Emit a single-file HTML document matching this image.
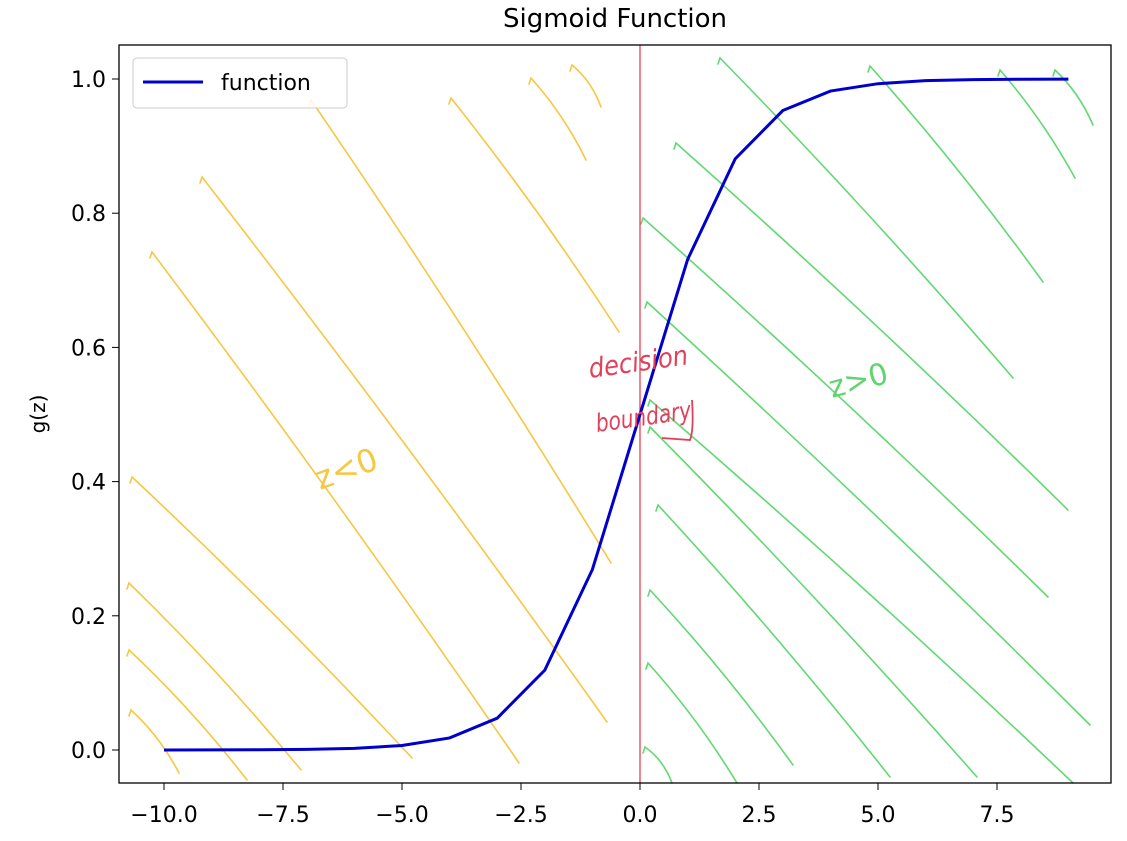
<!DOCTYPE html>
<html><head><meta charset="utf-8"><style>
html,body{margin:0;padding:0;background:#fff;}
svg{display:block;font-family:"DejaVu Sans","Liberation Sans",sans-serif;}
</style></head><body>
<svg id="chart" width="1127" height="841" viewBox="0 0 1127 841">
<rect width="1127" height="841" fill="#fff"/>
<text x="615" y="27" font-size="26" text-anchor="middle" fill="#000">Sigmoid Function</text>
<text transform="translate(45,414) rotate(-90)" font-size="20" text-anchor="middle">g(z)</text>
<g id="hatch" fill="none" stroke-width="1.6" stroke-linecap="round"></g>
<g id="ticks"></g>
<line x1="640" y1="45" x2="640" y2="783" stroke="#e8404f" stroke-width="1.3"/>
<polyline id="curve" fill="none" stroke="#0000cc" stroke-width="3"/>
<text transform="translate(320,490) rotate(-20)" font-size="32" fill="#f6c743">z&lt;0</text>
<text transform="translate(832,398) rotate(-15)" font-size="30" fill="#5fd46f">z&gt;0</text>
<text transform="translate(590,378) rotate(-8)" font-size="27" fill="#e0405a" font-style="italic" textLength="100" lengthAdjust="spacingAndGlyphs">decision</text>
<text transform="translate(597,432) rotate(-8)" font-size="25" fill="#e0405a" font-style="italic" textLength="96" lengthAdjust="spacingAndGlyphs">boundary</text>
<path d="M662,438 L690,440 Q694,430 692,400" fill="none" stroke="#e0405a" stroke-width="1.8"/>
<rect x="119" y="45" width="992" height="738" fill="none" stroke="#000" stroke-width="1.3"/>
<g>
<rect x="133" y="58" width="214" height="50" rx="4" fill="#fff" fill-opacity="0.85" stroke="#ccc"/>
<line x1="143" y1="82" x2="203" y2="82" stroke="#0000cc" stroke-width="3"/>
<text x="221" y="90" font-size="22">function</text>
</g>
</svg>
<script>
const zValues=[-10,-9,-8,-7,-6,-5,-4,-3,-2,-1,0,1,2,3,4,5,6,7,8,9];
const gValues=[0.0000454,0.000123,0.000335,0.000911,0.00247,0.00669,0.018,0.0474,0.119,0.269,0.5,0.731,0.881,0.953,0.982,0.993,0.9975,0.9991,0.99966,0.99988];
const xTicks=[-10,-7.5,-5,-2.5,0,2.5,5,7.5];
const xTickLabels=["\u221210.0","\u22127.5","\u22125.0","\u22122.5","0.0","2.5","5.0","7.5"];
const yTicks=[0,0.2,0.4,0.6,0.8,1.0];
const yTickLabels=["0.0","0.2","0.4","0.6","0.8","1.0"];
function sx(v){return 640+v*47.6;}
function sy(v){return 750-v*671;}
const NS="http://www.w3.org/2000/svg";
const tg=document.getElementById('ticks');
xTicks.forEach((t,i)=>{
 const l=document.createElementNS(NS,'line');
 l.setAttribute('x1',sx(t));l.setAttribute('x2',sx(t));l.setAttribute('y1',783);l.setAttribute('y2',790);l.setAttribute('stroke','#000');
 
 
 tg.appendChild(l);
 const tx=document.createElementNS(NS,'text');
 tx.setAttribute('x',sx(t));tx.setAttribute('y',822);tx.setAttribute('font-size','22');tx.setAttribute('text-anchor','middle');
 tx.textContent=xTickLabels[i];
 
 
 tg.appendChild(tx);
});
yTicks.forEach((t,i)=>{
 const l=document.createElementNS(NS,'line');
 l.setAttribute('x1',112);l.setAttribute('x2',119);l.setAttribute('y1',sy(t));l.setAttribute('y2',sy(t));l.setAttribute('stroke','#000');
 
 
 tg.appendChild(l);
 const tx=document.createElementNS(NS,'text');
 tx.setAttribute('x',106);tx.setAttribute('y',sy(t)+8);tx.setAttribute('font-size','22');tx.setAttribute('text-anchor','end');
 tx.textContent=yTickLabels[i];
 
 
 tg.appendChild(tx);
});
document.getElementById('curve').setAttribute('points',zValues.map((z,i)=>sx(z)+','+sy(gValues[i])).join(' '));
// hand-drawn hatch strokes (decoration)
const yellow=[[131,710,179,773],[129,650,247,780],[129,583,301,770],[132,477,412,758],[152,252,519,763],[202,177,607,722],[311,100,611,563],[451,98,619,332],[531,78,586,160],[572,65,601,107]];
const green=[[720,58,1013,378],[870,66,1043,282],[1000,70,1075,178],[1055,70,1093,125],[676,143,1068,510],[643,218,1048,597],[647,302,1090,725],[650,400,1073,783],[650,427,977,777],[658,505,890,777],[650,590,793,765],[648,663,737,783],[645,747,672,783]];
const hg=document.getElementById('hatch');
function stroke(s,col){
 const p=document.createElementNS(NS,'path');
 const mx=(s[0]+s[2])/2+5, my=(s[1]+s[3])/2-5;
 p.setAttribute('d','M'+(s[0]-2)+','+(s[1]+6)+' L'+s[0]+','+s[1]+' Q'+mx+','+my+' '+s[2]+','+s[3]);
 p.setAttribute('stroke',col);
 
 
 hg.appendChild(p);
}
yellow.forEach(s=>stroke(s,'#f6c743'));
green.forEach(s=>stroke(s,'#62d872'));
</script>
</body></html>
